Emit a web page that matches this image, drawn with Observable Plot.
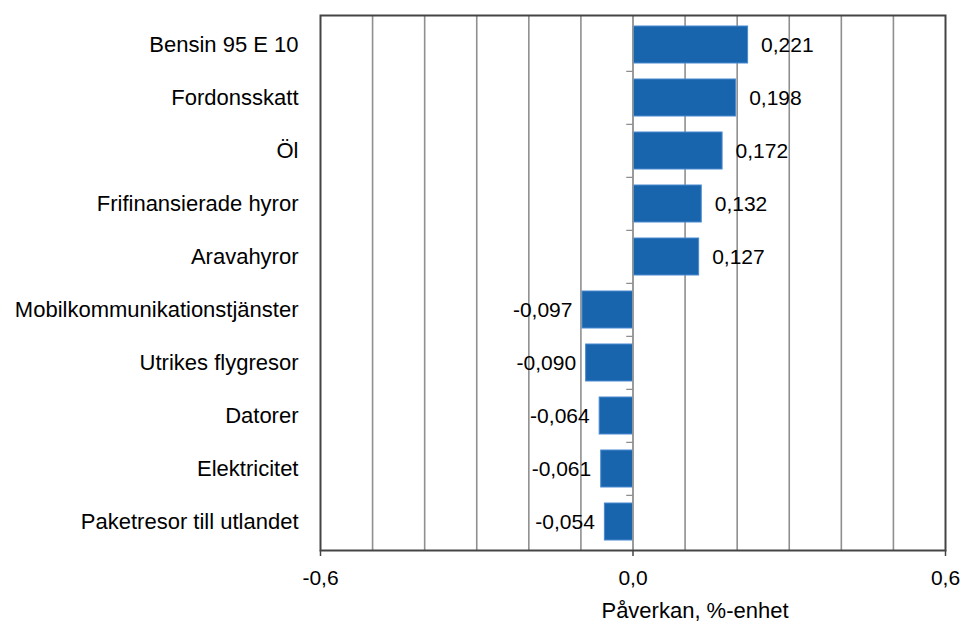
<!DOCTYPE html>
<html>
<head>
<meta charset="utf-8">
<script src="https://cdn.jsdelivr.net/npm/d3@7"></script>
<script src="https://cdn.jsdelivr.net/npm/@observablehq/plot@0.6"></script>
<style>
  html, body { margin: 0; padding: 0; background: #fff; }
  #chart { width: 963px; height: 623px; }
  svg { font-family: "Liberation Sans", Arial, sans-serif; }
</style>
</head>
<body>
<div id="chart"></div>
<script>
const categories = [
  "Bensin 95 E 10",
  "Fordonsskatt",
  "Öl",
  "Frifinansierade hyror",
  "Aravahyror",
  "Mobilkommunikationstjänster",
  "Utrikes flygresor",
  "Datorer",
  "Elektricitet",
  "Paketresor till utlandet"
];
const values = [0.221, 0.198, 0.172, 0.132, 0.127, -0.097, -0.090, -0.064, -0.061, -0.054];
const xTicks = [-0.6, 0, 0.6];
const gridValues = [-0.5, -0.4, -0.3, -0.2, -0.1, 0, 0.1, 0.2, 0.3, 0.4, 0.5];
const axisTitle = "Påverkan, %-enhet";

const data = categories.map((c, i) => ({category: c, value: values[i]}));
const locale = d3.formatLocale({decimal: ",", thousands: " ", grouping: [3], currency: ["", ""], minus: "-"});
const fmt3 = locale.format(".3f");
const fmt1 = locale.format(".1f");

const chart = Plot.plot({
  width: 963,
  height: 623,
  marginTop: 15,
  marginLeft: 320,
  marginRight: 18,
  marginBottom: 73,
  style: {fontFamily: "'Liberation Sans', Arial, sans-serif", fontSize: "22px", color: "#000", background: "#fff"},
  x: {domain: [-0.6, 0.6]},
  y: {domain: categories, paddingInner: 0.31, paddingOuter: 0.17},
  marks: [
    Plot.ruleX(gridValues, {stroke: "#8f8f8f", strokeWidth: 1.6}),
    Plot.barX(data, {x: "value", y: "category", fill: "#1865ad", stroke: "#4a8ad0", strokeWidth: 1}),
    Plot.ruleX([0], {stroke: "#999", strokeWidth: 1.6}),
    Plot.ruleY(categories.slice(1), {y: d => d, x1: -0.012, x2: 0, dy: -26.65, stroke: "#888", strokeWidth: 1.2}),
    Plot.text(data.filter(d => d.value >= 0), {x: "value", y: "category", text: d => fmt3(d.value), textAnchor: "start", dx: 13, fontSize: 21, fill: "#000"}),
    Plot.text(data.filter(d => d.value < 0), {x: "value", y: "category", text: d => fmt3(d.value), textAnchor: "end", dx: -10, fontSize: 21, fill: "#000"}),
    Plot.frame({stroke: "#444", strokeWidth: 2}),
    Plot.axisX({ticks: xTicks, tickFormat: d => fmt1(d), tickSize: 6, tickPadding: 14, label: null, fontSize: 21, stroke: "#444", strokeWidth: 1.5}),
    Plot.axisY({tickSize: 0, tickPadding: 22, label: null, fontSize: 22}),
    Plot.text([axisTitle], {frameAnchor: "bottom", dx: 62, dy: 60, lineAnchor: "middle", fontSize: 22, fill: "#000"})
  ]
});
document.getElementById("chart").appendChild(chart);
</script>
</body>
</html>
